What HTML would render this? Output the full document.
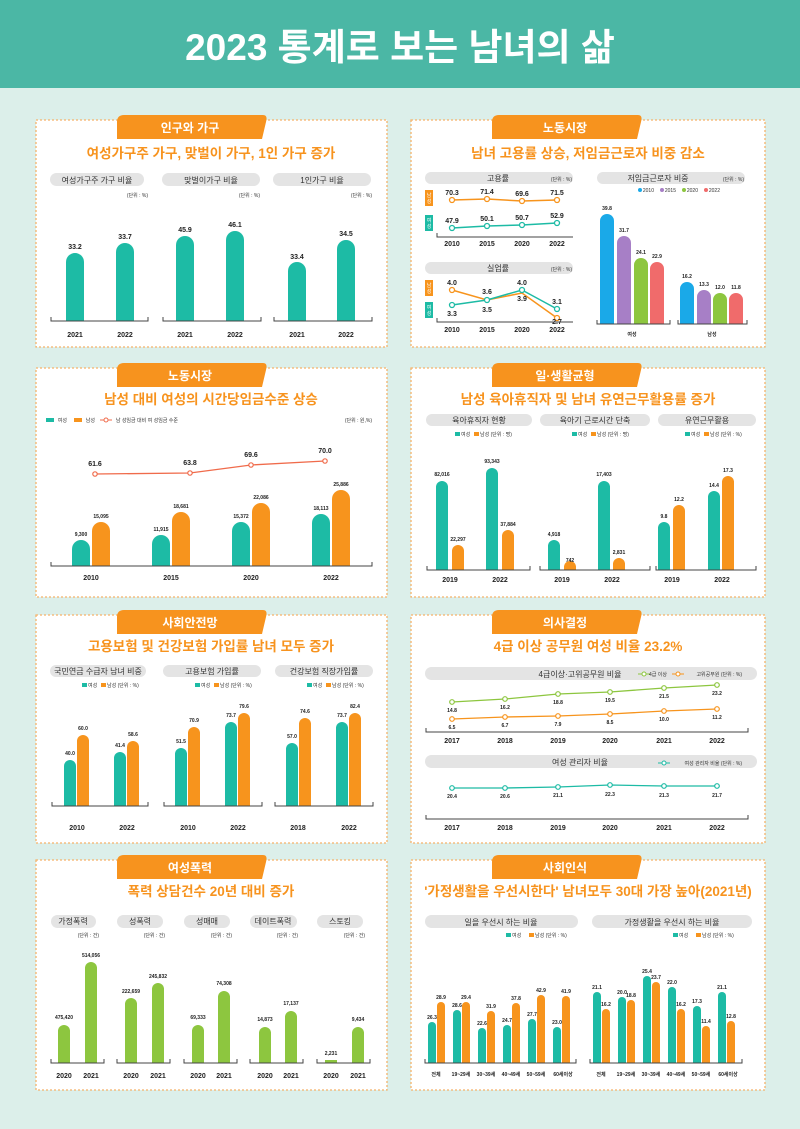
<!DOCTYPE html>
<html><head><meta charset="utf-8"><style>
html,body{margin:0;padding:0;background:#dcefea;}
svg{display:block;font-family:"Liberation Sans","Noto Sans CJK KR",sans-serif;}
.t{fill:#fff;font-weight:bold;font-size:12px;text-anchor:middle}
.h{fill:#f7931e;font-weight:bold;font-size:13.5px;text-anchor:middle}
.p{fill:#e4e4e4}
.pl{fill:#333;font-size:8px;text-anchor:middle}
.u{fill:#333;font-size:5px;text-anchor:end}
.y{fill:#222;font-size:7px;font-weight:bold;text-anchor:middle}
.v{fill:#222;font-size:7px;font-weight:bold;text-anchor:middle}
.s{fill:#222;font-size:5px;font-weight:bold;text-anchor:middle}
.ax{stroke:#444;stroke-width:1;fill:none}
.te{fill:#1dbba5}.or{fill:#f7941d}.gr{fill:#8dc63f}
</style></head><body>
<svg width="800" height="1129" viewBox="0 0 800 1129">
<rect width="800" height="1129" fill="#dcefea"/>
<rect width="800" height="88" fill="#4bb7a5"/>
<text x="400" y="60" fill="#fff" font-size="37" font-weight="bold" text-anchor="middle">2023 통계로 보는 남녀의 삶</text>

<g fill="#fff" stroke="#f5b26b" stroke-width="1.3" stroke-dasharray="2 2">
<rect x="36" y="120" width="351" height="227"/><rect x="411" y="120" width="354" height="227"/>
<rect x="36" y="368" width="351" height="229"/><rect x="411" y="368" width="354" height="229"/>
<rect x="36" y="615" width="351" height="228"/><rect x="411" y="615" width="354" height="228"/>
<rect x="36" y="860" width="351" height="230"/><rect x="411" y="860" width="354" height="230"/>
</g>
<g fill="#f7931e">
<path d="M117,122 Q117,115 124,115 L263,115 Q268,115 266,122 L262,139 L117,139 Z"/>
<path d="M492,122 Q492,115 499,115 L638,115 Q643,115 641,122 L637,139 L492,139 Z"/>
<path d="M117,370 Q117,363 124,363 L263,363 Q268,363 266,370 L262,387 L117,387 Z"/>
<path d="M492,370 Q492,363 499,363 L638,363 Q643,363 641,370 L637,387 L492,387 Z"/>
<path d="M117,617 Q117,610 124,610 L263,610 Q268,610 266,617 L262,634 L117,634 Z"/>
<path d="M492,617 Q492,610 499,610 L638,610 Q643,610 641,617 L637,634 L492,634 Z"/>
<path d="M117,862 Q117,855 124,855 L263,855 Q268,855 266,862 L262,879 L117,879 Z"/>
<path d="M492,862 Q492,855 499,855 L638,855 Q643,855 641,862 L637,879 L492,879 Z"/>
</g>
<text class="t" x="190" y="132">인구와 가구</text><text class="t" x="565" y="132">노동시장</text>
<text class="t" x="190" y="380">노동시장</text><text class="t" x="565" y="380">일·생활균형</text>
<text class="t" x="190" y="627">사회안전망</text><text class="t" x="565" y="627">의사결정</text>
<text class="t" x="190" y="872">여성폭력</text><text class="t" x="565" y="872">사회인식</text>
<text class="h" x="211" y="158">여성가구주 가구, 맞벌이 가구, 1인 가구 증가</text>
<text class="h" x="588" y="158">남녀 고용률 상승, 저임금근로자 비중 감소</text>
<text class="h" x="211" y="404">남성 대비 여성의 시간당임금수준 상승</text>
<text class="h" x="588" y="404">남성 육아휴직자 및 남녀 유연근무활용률 증가</text>
<text class="h" x="211" y="651">고용보험 및 건강보험 가입률 남녀 모두 증가</text>
<text class="h" x="588" y="651">4급 이상 공무원 여성 비율 23.2%</text>
<text class="h" x="211" y="896">폭력 상담건수 20년 대비 증가</text>
<text class="h" x="588" y="896" font-size="12.5">'가정생활을 우선시한다' 남녀모두 30대 가장 높아(2021년)</text>

<!-- P1 -->
<rect class="p" x="50" y="173" width="94" height="13" rx="6.5"/><rect class="p" x="162" y="173" width="98" height="13" rx="6.5"/><rect class="p" x="273" y="173" width="98" height="13" rx="6.5"/>
<text class="pl" x="97" y="183">여성가구주 가구 비율</text><text class="pl" x="211" y="183">맞벌이가구 비율</text><text class="pl" x="322" y="183">1인가구 비율</text>
<text class="u" x="148" y="197">(단위 : %)</text><text class="u" x="260" y="197">(단위 : %)</text><text class="u" x="372" y="197">(단위 : %)</text>
<g class="te">
<path d="M66,321V262A9,9 0 0 1 84,262V321Z"/><path d="M116,321V252A9,9 0 0 1 134,252V321Z"/>
<path d="M176,321V245A9,9 0 0 1 194,245V321Z"/><path d="M226,321V240A9,9 0 0 1 244,240V321Z"/>
<path d="M288,321V271A9,9 0 0 1 306,271V321Z"/><path d="M337,321V249A9,9 0 0 1 355,249V321Z"/>
</g>
<path class="ax" d="M51,317V321H148V317M163,317V321H261V317M274,317V321H372V317"/>
<text class="v" x="75" y="249">33.2</text><text class="v" x="125" y="239">33.7</text><text class="v" x="185" y="232">45.9</text><text class="v" x="235" y="227">46.1</text><text class="v" x="297" y="259">33.4</text><text class="v" x="346" y="236">34.5</text>
<text class="y" x="75" y="337">2021</text><text class="y" x="125" y="337">2022</text><text class="y" x="185" y="337">2021</text><text class="y" x="235" y="337">2022</text><text class="y" x="297" y="337">2021</text><text class="y" x="346" y="337">2022</text>

<!-- P2 -->
<rect class="p" x="425" y="172" width="148" height="12" rx="6"/><text class="pl" x="498" y="181">고용률</text><text class="u" x="572" y="181">(단위 : %)</text>
<rect class="or" x="425" y="190" width="8" height="16"/><rect class="te" x="425" y="215" width="8" height="16"/>
<g fill="#fff" font-size="5" text-anchor="middle"><text x="429" y="197">남</text><text x="429" y="203">성</text><text x="429" y="222">여</text><text x="429" y="228">성</text>
<text x="429" y="287">남</text><text x="429" y="293">성</text><text x="429" y="309">여</text><text x="429" y="315">성</text></g>
<path d="M452,200 L487,199 L522,201 L557,200" stroke="#f7941d" stroke-width="1.5" fill="none"/>
<path d="M452,228 L487,226 L522,225 L557,223" stroke="#1dbba5" stroke-width="1.5" fill="none"/>
<g fill="#fff" stroke-width="1.3"><g stroke="#f7941d"><circle cx="452" cy="200" r="2.5"/><circle cx="487" cy="199" r="2.5"/><circle cx="522" cy="201" r="2.5"/><circle cx="557" cy="200" r="2.5"/></g>
<g stroke="#1dbba5"><circle cx="452" cy="228" r="2.5"/><circle cx="487" cy="226" r="2.5"/><circle cx="522" cy="225" r="2.5"/><circle cx="557" cy="223" r="2.5"/></g></g>
<text class="v" x="452" y="195">70.3</text><text class="v" x="487" y="194">71.4</text><text class="v" x="522" y="196">69.6</text><text class="v" x="557" y="195">71.5</text>
<text class="v" x="452" y="223">47.9</text><text class="v" x="487" y="221">50.1</text><text class="v" x="522" y="220">50.7</text><text class="v" x="557" y="218">52.9</text>
<path class="ax" d="M437,233V237H573"/>
<text class="y" x="452" y="246">2010</text><text class="y" x="487" y="246">2015</text><text class="y" x="522" y="246">2020</text><text class="y" x="557" y="246">2022</text>
<rect class="p" x="425" y="262" width="148" height="12" rx="6"/><text class="pl" x="498" y="271">실업률</text><text class="u" x="572" y="271">(단위 : %)</text>
<rect class="or" x="425" y="280" width="8" height="16"/><rect class="te" x="425" y="302" width="8" height="16"/>
<g fill="#fff" font-size="5" text-anchor="middle"><text x="429" y="287">남</text><text x="429" y="293">성</text><text x="429" y="309">여</text><text x="429" y="315">성</text></g>
<path d="M452,290 L487,300 L522,293 L557,318" stroke="#f7941d" stroke-width="1.5" fill="none"/>
<path d="M452,305 L487,300 L522,290 L557,309" stroke="#1dbba5" stroke-width="1.5" fill="none"/>
<g fill="#fff" stroke-width="1.3"><g stroke="#f7941d"><circle cx="452" cy="290" r="2.5"/><circle cx="557" cy="318" r="2.5"/></g>
<g stroke="#1dbba5"><circle cx="452" cy="305" r="2.5"/><circle cx="487" cy="300" r="2.5"/><circle cx="522" cy="290" r="2.5"/><circle cx="557" cy="309" r="2.5"/></g></g>
<text class="v" x="452" y="285">4.0</text><text class="v" x="487" y="294">3.6</text><text class="v" x="522" y="285">4.0</text><text class="v" x="557" y="304">3.1</text>
<text class="v" x="452" y="316">3.3</text><text class="v" x="487" y="312">3.5</text><text class="v" x="522" y="301">3.9</text><text class="v" x="557" y="324">2.7</text>
<path class="ax" d="M437,318V322H573"/>
<text class="y" x="452" y="332">2010</text><text class="y" x="487" y="332">2015</text><text class="y" x="522" y="332">2020</text><text class="y" x="557" y="332">2022</text>
<rect class="p" x="597" y="172" width="148" height="12" rx="6"/><text class="pl" x="658" y="181">저임금근로자 비중</text><text class="u" x="744" y="181">(단위 : %)</text>
<circle cx="640" cy="190" r="2" fill="#1aa9e8"/><text class="u" x="654" y="192">2010</text>
<circle cx="662" cy="190" r="2" fill="#a77fc6"/><text class="u" x="676" y="192">2015</text>
<circle cx="684" cy="190" r="2" fill="#8dc63f"/><text class="u" x="698" y="192">2020</text>
<circle cx="706" cy="190" r="2" fill="#f06b6b"/><text class="u" x="720" y="192">2022</text>
<path d="M600,324V221A7,7 0 0 1 614,221V324Z" fill="#1aa9e8"/><path d="M617,324V243A7,7 0 0 1 631,243V324Z" fill="#a77fc6"/>
<path d="M634,324V265A7,7 0 0 1 648,265V324Z" fill="#8dc63f"/><path d="M650,324V269A7,7 0 0 1 664,269V324Z" fill="#f06b6b"/>
<path d="M680,324V289A7,7 0 0 1 694,289V324Z" fill="#1aa9e8"/><path d="M697,324V297A7,7 0 0 1 711,297V324Z" fill="#a77fc6"/>
<path d="M713,324V300A7,7 0 0 1 727,300V324Z" fill="#8dc63f"/><path d="M729,324V300A7,7 0 0 1 743,300V324Z" fill="#f06b6b"/>
<text class="s" x="607" y="210">39.8</text><text class="s" x="624" y="232">31.7</text><text class="s" x="641" y="254">24.1</text><text class="s" x="657" y="258">22.9</text>
<text class="s" x="687" y="278">16.2</text><text class="s" x="704" y="286">13.3</text><text class="s" x="720" y="289">12.0</text><text class="s" x="736" y="289">11.8</text>
<path class="ax" d="M597,320V324H670V320M678,320V324H747V320"/>
<text class="s" x="632" y="336" font-size="7">여성</text><text class="s" x="712" y="336" font-size="7">남성</text>

<!-- P3 -->
<rect class="te" x="46" y="418" width="8" height="4"/><text class="u" x="67" y="422">여성</text>
<rect class="or" x="74" y="418" width="8" height="4"/><text class="u" x="95" y="422">남성</text>
<line x1="100" y1="420" x2="112" y2="420" stroke="#f06b4b"/><circle cx="106" cy="420" r="2" fill="#fff" stroke="#f06b4b"/><text class="u" x="178" y="422">남 성임금 대비 여 성임금 수준</text>
<text class="u" x="372" y="422">(단위 : 원,%)</text>
<path d="M95,474 L190,473 L251,465 L325,461" stroke="#f06b4b" stroke-width="1.3" fill="none"/>
<g fill="#fff" stroke="#f06b4b" stroke-width="1.2"><circle cx="95" cy="474" r="2.2"/><circle cx="190" cy="473" r="2.2"/><circle cx="251" cy="465" r="2.2"/><circle cx="325" cy="461" r="2.2"/></g>
<text class="v" x="95" y="466">61.6</text><text class="v" x="190" y="465">63.8</text><text class="v" x="251" y="457">69.6</text><text class="v" x="325" y="453">70.0</text>
<g>
<path class="te" d="M72,566V549A9,9 0 0 1 90,549V566Z"/><path class="or" d="M92,566V531A9,9 0 0 1 110,531V566Z"/>
<path class="te" d="M152,566V544A9,9 0 0 1 170,544V566Z"/><path class="or" d="M172,566V521A9,9 0 0 1 190,521V566Z"/>
<path class="te" d="M232,566V531A9,9 0 0 1 250,531V566Z"/><path class="or" d="M252,566V512A9,9 0 0 1 270,512V566Z"/>
<path class="te" d="M312,566V523A9,9 0 0 1 330,523V566Z"/><path class="or" d="M332,566V499A9,9 0 0 1 350,499V566Z"/>
</g>
<text class="s" x="81" y="536">9,300</text><text class="s" x="101" y="518">15,095</text><text class="s" x="161" y="531">11,915</text><text class="s" x="181" y="508">18,681</text>
<text class="s" x="241" y="518">15,372</text><text class="s" x="261" y="499">22,086</text><text class="s" x="321" y="510">18,113</text><text class="s" x="341" y="486">25,886</text>
<path class="ax" d="M51,562V566H372V562"/>
<text class="y" x="91" y="580">2010</text><text class="y" x="171" y="580">2015</text><text class="y" x="251" y="580">2020</text><text class="y" x="331" y="580">2022</text>

<!-- P4 -->
<rect class="p" x="426" y="414" width="106" height="12" rx="6"/><rect class="p" x="540" y="414" width="110" height="12" rx="6"/><rect class="p" x="658" y="414" width="98" height="12" rx="6"/>
<text class="pl" x="479" y="423">육아휴직자 현황</text><text class="pl" x="595" y="423">육아기 근로시간 단축</text><text class="pl" x="707" y="423">유연근무활용</text>
<g font-size="5" fill="#333"><rect class="te" x="455" y="432" width="5" height="4"/><text x="461" y="436">여성</text><rect class="or" x="474" y="432" width="5" height="4"/><text x="480" y="436">남성 (단위 : 명)</text>
<rect class="te" x="572" y="432" width="5" height="4"/><text x="578" y="436">여성</text><rect class="or" x="591" y="432" width="5" height="4"/><text x="597" y="436">남성 (단위 : 명)</text>
<rect class="te" x="685" y="432" width="5" height="4"/><text x="691" y="436">여성</text><rect class="or" x="704" y="432" width="5" height="4"/><text x="710" y="436">남성 (단위 : %)</text></g>
<path class="te" d="M436,570V487A6,6 0 0 1 448,487V570Z"/><path class="or" d="M452,570V551A6,6 0 0 1 464,551V570Z"/>
<path class="te" d="M486,570V474A6,6 0 0 1 498,474V570Z"/><path class="or" d="M502,570V536A6,6 0 0 1 514,536V570Z"/>
<path class="te" d="M548,570V546A6,6 0 0 1 560,546V570Z"/><path class="or" d="M564,570V567A3,3 0 0 1 576,567V570Z"/>
<path class="te" d="M598,570V487A6,6 0 0 1 610,487V570Z"/><path class="or" d="M613,570V564A6,6 0 0 1 625,564V570Z"/>
<path class="te" d="M658,570V528A6,6 0 0 1 670,528V570Z"/><path class="or" d="M673,570V511A6,6 0 0 1 685,511V570Z"/>
<path class="te" d="M708,570V497A6,6 0 0 1 720,497V570Z"/><path class="or" d="M722,570V482A6,6 0 0 1 734,482V570Z"/>
<text class="s" x="442" y="476">82,016</text><text class="s" x="458" y="541">22,297</text><text class="s" x="492" y="463">93,343</text><text class="s" x="508" y="526">37,884</text>
<text class="s" x="554" y="536">4,918</text><text class="s" x="570" y="562">742</text><text class="s" x="604" y="476">17,403</text><text class="s" x="619" y="554">2,831</text>
<text class="s" x="664" y="518">9.8</text><text class="s" x="679" y="501">12.2</text><text class="s" x="714" y="487">14.4</text><text class="s" x="728" y="472">17.3</text>
<path class="ax" d="M427,566V570H530V566M540,566V570H650V566M656,566V570H756V566"/>
<text class="y" x="450" y="582">2019</text><text class="y" x="500" y="582">2022</text><text class="y" x="562" y="582">2019</text><text class="y" x="612" y="582">2022</text><text class="y" x="672" y="582">2019</text><text class="y" x="722" y="582">2022</text>

<!-- P5 -->
<rect class="p" x="50" y="665" width="96" height="12" rx="6"/><rect class="p" x="163" y="665" width="98" height="12" rx="6"/><rect class="p" x="275" y="665" width="98" height="12" rx="6"/>
<text class="pl" x="98" y="674">국민연금 수급자 남녀 비중</text><text class="pl" x="212" y="674">고용보험 가입률</text><text class="pl" x="324" y="674">건강보험 직장가입률</text>
<g font-size="5" fill="#333"><rect class="te" x="82" y="683" width="5" height="4"/><text x="88" y="687">여성</text><rect class="or" x="101" y="683" width="5" height="4"/><text x="107" y="687">남성 (단위 : %)</text>
<rect class="te" x="195" y="683" width="5" height="4"/><text x="201" y="687">여성</text><rect class="or" x="214" y="683" width="5" height="4"/><text x="220" y="687">남성 (단위 : %)</text>
<rect class="te" x="307" y="683" width="5" height="4"/><text x="313" y="687">여성</text><rect class="or" x="326" y="683" width="5" height="4"/><text x="332" y="687">남성 (단위 : %)</text></g>
<path class="te" d="M64,806V766A6,6 0 0 1 76,766V806Z"/><path class="or" d="M77,806V741A6,6 0 0 1 89,741V806Z"/>
<path class="te" d="M114,806V758A6,6 0 0 1 126,758V806Z"/><path class="or" d="M127,806V747A6,6 0 0 1 139,747V806Z"/>
<path class="te" d="M175,806V754A6,6 0 0 1 187,754V806Z"/><path class="or" d="M188,806V733A6,6 0 0 1 200,733V806Z"/>
<path class="te" d="M225,806V728A6,6 0 0 1 237,728V806Z"/><path class="or" d="M238,806V719A6,6 0 0 1 250,719V806Z"/>
<path class="te" d="M286,806V749A6,6 0 0 1 298,749V806Z"/><path class="or" d="M299,806V724A6,6 0 0 1 311,724V806Z"/>
<path class="te" d="M336,806V728A6,6 0 0 1 348,728V806Z"/><path class="or" d="M349,806V719A6,6 0 0 1 361,719V806Z"/>
<text class="s" x="70" y="755">40.0</text><text class="s" x="83" y="730">60.0</text><text class="s" x="120" y="747">41.4</text><text class="s" x="133" y="736">58.6</text>
<text class="s" x="181" y="743">51.5</text><text class="s" x="194" y="722">70.9</text><text class="s" x="231" y="717">73.7</text><text class="s" x="244" y="708">79.6</text>
<text class="s" x="292" y="738">57.0</text><text class="s" x="305" y="713">74.6</text><text class="s" x="342" y="717">73.7</text><text class="s" x="355" y="708">82.4</text>
<path class="ax" d="M52,802V806H148V802M164,802V806H262V802M275,802V806H373V802"/>
<text class="y" x="77" y="830">2010</text><text class="y" x="127" y="830">2022</text><text class="y" x="188" y="830">2010</text><text class="y" x="238" y="830">2022</text><text class="y" x="298" y="830">2018</text><text class="y" x="349" y="830">2022</text>

<!-- P6 -->
<rect class="p" x="425" y="667" width="332" height="13" rx="6.5"/><text class="pl" x="580" y="677">4급이상·고위공무원 비율</text>
<line x1="638" y1="674" x2="650" y2="674" stroke="#8dc63f"/><circle cx="644" cy="674" r="2" fill="#fff" stroke="#8dc63f"/><text class="u" x="667" y="676">4급 이상</text>
<line x1="672" y1="674" x2="684" y2="674" stroke="#f7941d"/><circle cx="678" cy="674" r="2" fill="#fff" stroke="#f7941d"/><text class="u" x="742" y="676">고위공무원 (단위 : %)</text>
<path d="M452,702 L505,699 L558,694 L610,692 L664,688 L717,685" stroke="#8dc63f" stroke-width="1.3" fill="none"/>
<path d="M452,719 L505,717 L558,716 L610,714 L664,711 L717,709" stroke="#f7941d" stroke-width="1.3" fill="none"/>
<g fill="#fff" stroke-width="1.2"><g stroke="#8dc63f"><circle cx="452" cy="702" r="2.3"/><circle cx="505" cy="699" r="2.3"/><circle cx="558" cy="694" r="2.3"/><circle cx="610" cy="692" r="2.3"/><circle cx="664" cy="688" r="2.3"/><circle cx="717" cy="685" r="2.3"/></g>
<g stroke="#f7941d"><circle cx="452" cy="719" r="2.3"/><circle cx="505" cy="717" r="2.3"/><circle cx="558" cy="716" r="2.3"/><circle cx="610" cy="714" r="2.3"/><circle cx="664" cy="711" r="2.3"/><circle cx="717" cy="709" r="2.3"/></g></g>
<g class="s"><text x="452" y="712">14.8</text><text x="505" y="709">16.2</text><text x="558" y="704">18.8</text><text x="610" y="702">19.5</text><text x="664" y="698">21.5</text><text x="717" y="695">23.2</text>
<text x="452" y="729">6.5</text><text x="505" y="727">6.7</text><text x="558" y="726">7.9</text><text x="610" y="724">8.5</text><text x="664" y="721">10.0</text><text x="717" y="719">11.2</text></g>
<path class="ax" d="M426,728V732H748V728"/>
<g class="y"><text x="452" y="743">2017</text><text x="505" y="743">2018</text><text x="558" y="743">2019</text><text x="610" y="743">2020</text><text x="664" y="743">2021</text><text x="717" y="743">2022</text></g>
<rect class="p" x="425" y="755" width="332" height="13" rx="6.5"/><text class="pl" x="580" y="765">여성 관리자 비율</text>
<line x1="658" y1="763" x2="670" y2="763" stroke="#1dbba5"/><circle cx="664" cy="763" r="2" fill="#fff" stroke="#1dbba5"/><text class="u" x="742" y="765">여성 관리자 비율 (단위 : %)</text>
<path d="M452,788 L505,788 L558,787 L610,785 L664,786 L717,786" stroke="#1dbba5" stroke-width="1.3" fill="none"/>
<g fill="#fff" stroke="#1dbba5" stroke-width="1.2"><circle cx="452" cy="788" r="2.3"/><circle cx="505" cy="788" r="2.3"/><circle cx="558" cy="787" r="2.3"/><circle cx="610" cy="785" r="2.3"/><circle cx="664" cy="786" r="2.3"/><circle cx="717" cy="786" r="2.3"/></g>
<g class="s"><text x="452" y="798">20.4</text><text x="505" y="798">20.6</text><text x="558" y="797">21.1</text><text x="610" y="796">22.3</text><text x="664" y="797">21.3</text><text x="717" y="797">21.7</text></g>
<path class="ax" d="M426,815V819H748V815"/>
<g class="y"><text x="452" y="830">2017</text><text x="505" y="830">2018</text><text x="558" y="830">2019</text><text x="610" y="830">2020</text><text x="664" y="830">2021</text><text x="717" y="830">2022</text></g>

<!-- P7 -->
<rect class="p" x="51" y="915" width="45" height="13" rx="6.5"/><rect class="p" x="117" y="915" width="46" height="13" rx="6.5"/><rect class="p" x="184" y="915" width="46" height="13" rx="6.5"/><rect class="p" x="250" y="915" width="47" height="13" rx="6.5"/><rect class="p" x="317" y="915" width="46" height="13" rx="6.5"/>
<g class="pl" font-size="7.5"><text x="73" y="924">가정폭력</text><text x="140" y="924">성폭력</text><text x="207" y="924">성매매</text><text x="273" y="924">데이트폭력</text><text x="340" y="924">스토킹</text></g>
<g class="u"><text x="99" y="937">(단위 : 건)</text><text x="165" y="937">(단위 : 건)</text><text x="232" y="937">(단위 : 건)</text><text x="298" y="937">(단위 : 건)</text><text x="365" y="937">(단위 : 건)</text></g>
<g class="gr">
<path d="M58,1063V1031A6,6 0 0 1 70,1031V1063Z"/><path d="M85,1063V968A6,6 0 0 1 97,968V1063Z"/>
<path d="M125,1063V1004A6,6 0 0 1 137,1004V1063Z"/><path d="M152,1063V989A6,6 0 0 1 164,989V1063Z"/>
<path d="M192,1063V1031A6,6 0 0 1 204,1031V1063Z"/><path d="M218,1063V997A6,6 0 0 1 230,997V1063Z"/>
<path d="M259,1063V1033A6,6 0 0 1 271,1033V1063Z"/><path d="M285,1063V1017A6,6 0 0 1 297,1017V1063Z"/>
<rect x="325" y="1060" width="12" height="3"/><path d="M352,1063V1033A6,6 0 0 1 364,1033V1063Z"/>
</g>
<g class="s"><text x="64" y="1019">475,420</text><text x="91" y="957">514,056</text><text x="131" y="993">222,659</text><text x="158" y="978">245,832</text>
<text x="198" y="1019">69,333</text><text x="224" y="985">74,308</text><text x="265" y="1021">14,873</text><text x="291" y="1005">17,137</text>
<text x="331" y="1055">2,231</text><text x="358" y="1021">9,434</text></g>
<path class="ax" d="M51,1059V1063H104V1059M117,1059V1063H170V1059M184,1059V1063H237V1059M250,1059V1063H303V1059M317,1059V1063H370V1059"/>
<g class="y"><text x="64" y="1078">2020</text><text x="91" y="1078">2021</text><text x="131" y="1078">2020</text><text x="158" y="1078">2021</text><text x="198" y="1078">2020</text><text x="224" y="1078">2021</text><text x="265" y="1078">2020</text><text x="291" y="1078">2021</text><text x="331" y="1078">2020</text><text x="358" y="1078">2021</text></g>

<!-- P8 -->
<rect class="p" x="425" y="915" width="153" height="13" rx="6.5"/><rect class="p" x="592" y="915" width="160" height="13" rx="6.5"/>
<text class="pl" x="501" y="925">일을 우선시 하는 비율</text><text class="pl" x="672" y="925">가정생활을 우선시 하는 비율</text>
<g font-size="5" fill="#333"><rect class="te" x="506" y="933" width="5" height="4"/><text x="512" y="937">여성</text><rect class="or" x="529" y="933" width="5" height="4"/><text x="535" y="937">남성 (단위 : %)</text>
<rect class="te" x="673" y="933" width="5" height="4"/><text x="679" y="937">여성</text><rect class="or" x="696" y="933" width="5" height="4"/><text x="702" y="937">남성 (단위 : %)</text></g>
<g>
<path class="te" d="M428,1063V1026A4,4 0 0 1 436,1026V1063Z"/><path class="or" d="M437,1063V1006A4,4 0 0 1 445,1006V1063Z"/>
<path class="te" d="M453,1063V1014A4,4 0 0 1 461,1014V1063Z"/><path class="or" d="M462,1063V1006A4,4 0 0 1 470,1006V1063Z"/>
<path class="te" d="M478,1063V1032A4,4 0 0 1 486,1032V1063Z"/><path class="or" d="M487,1063V1015A4,4 0 0 1 495,1015V1063Z"/>
<path class="te" d="M503,1063V1029A4,4 0 0 1 511,1029V1063Z"/><path class="or" d="M512,1063V1007A4,4 0 0 1 520,1007V1063Z"/>
<path class="te" d="M528,1063V1023A4,4 0 0 1 536,1023V1063Z"/><path class="or" d="M537,1063V999A4,4 0 0 1 545,999V1063Z"/>
<path class="te" d="M553,1063V1031A4,4 0 0 1 561,1031V1063Z"/><path class="or" d="M562,1063V1000A4,4 0 0 1 570,1000V1063Z"/>
<path class="te" d="M593,1063V996A4,4 0 0 1 601,996V1063Z"/><path class="or" d="M602,1063V1013A4,4 0 0 1 610,1013V1063Z"/>
<path class="te" d="M618,1063V1001A4,4 0 0 1 626,1001V1063Z"/><path class="or" d="M627,1063V1004A4,4 0 0 1 635,1004V1063Z"/>
<path class="te" d="M643,1063V980A4,4 0 0 1 651,980V1063Z"/><path class="or" d="M652,1063V986A4,4 0 0 1 660,986V1063Z"/>
<path class="te" d="M668,1063V991A4,4 0 0 1 676,991V1063Z"/><path class="or" d="M677,1063V1013A4,4 0 0 1 685,1013V1063Z"/>
<path class="te" d="M693,1063V1010A4,4 0 0 1 701,1010V1063Z"/><path class="or" d="M702,1063V1030A4,4 0 0 1 710,1030V1063Z"/>
<path class="te" d="M718,1063V996A4,4 0 0 1 726,996V1063Z"/><path class="or" d="M727,1063V1025A4,4 0 0 1 735,1025V1063Z"/>
</g>
<g class="s" font-size="4.5"><text x="432" y="1019">26.3</text><text x="441" y="999">28.9</text><text x="457" y="1007">28.6</text><text x="466" y="999">29.4</text>
<text x="482" y="1025">22.6</text><text x="491" y="1008">31.9</text><text x="507" y="1022">24.7</text><text x="516" y="1000">37.8</text>
<text x="532" y="1016">27.7</text><text x="541" y="992">42.9</text><text x="557" y="1024">23.0</text><text x="566" y="993">41.9</text>
<text x="597" y="989">21.1</text><text x="606" y="1006">16.2</text><text x="622" y="994">20.0</text><text x="631" y="997">18.8</text>
<text x="647" y="973">25.4</text><text x="656" y="979">23.7</text><text x="672" y="984">22.0</text><text x="681" y="1006">16.2</text>
<text x="697" y="1003">17.3</text><text x="706" y="1023">11.4</text><text x="722" y="989">21.1</text><text x="731" y="1018">12.8</text></g>
<path class="ax" d="M425,1059V1063H576V1059M590,1059V1063H742V1059"/>
<g class="s" font-size="5"><text x="436" y="1076">전체</text><text x="461" y="1076">19~29세</text><text x="486" y="1076">30~39세</text><text x="511" y="1076">40~49세</text><text x="536" y="1076">50~59세</text><text x="563" y="1076">60세이상</text>
<text x="601" y="1076">전체</text><text x="626" y="1076">19~29세</text><text x="651" y="1076">30~39세</text><text x="676" y="1076">40~49세</text><text x="701" y="1076">50~59세</text><text x="728" y="1076">60세이상</text></g>
</svg>
</body></html>
